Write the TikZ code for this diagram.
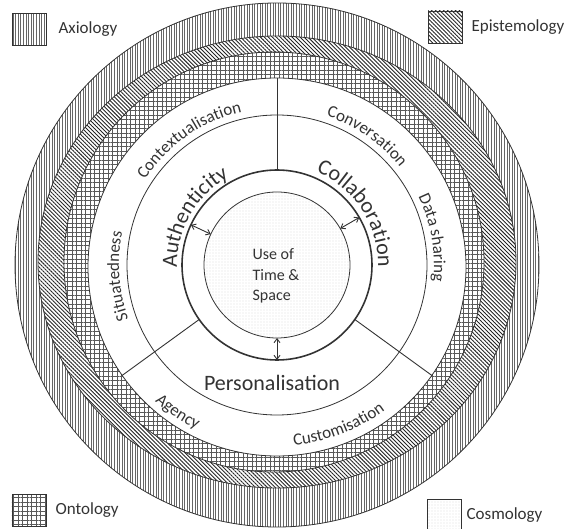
\documentclass[tikz,border=0pt]{standalone}
\usepackage{fontspec}
\setmainfont{Carlito}
\usepackage{tikz}
\usetikzlibrary{positioning, arrows.meta, patterns.meta, decorations.text}

\colorlet{ink}{black!80}
\newcommand\ringfont{\fontsize{17}{20}\selectfont}
\newcommand\bigfont{\fontsize{22}{26}\selectfont}

\tikzset{
  % fills of the four philosophical layers
  axiology/.style={pattern={Lines[angle=90,distance=2.6pt,line width=0.7pt]}, pattern color=black!60},
  epistemology/.style={pattern={Lines[angle=-45,distance=2.8pt,line width=0.9pt]}, pattern color=black!85},
  ontology/.style={pattern={Hatch[angle=0,distance=4.5pt,line width=0.6pt]}, pattern color=black!65},
  cosmology/.style={pattern={Dots[distance=3pt,radius=0.35pt]}, pattern color=black!35},
  band/.style={draw=ink, line width=0.8pt, preaction={fill=white}},
  ring/.style={circle, draw=ink, line width=0.8pt, inner sep=0pt, outer sep=0pt},
  divider/.style={draw=ink, line width=0.9pt},
  link/.style={{Straight Barb[length=4pt,width=6pt]}-{Straight Barb[length=4pt,width=6pt]}, draw=ink, line width=0.9pt},
  legbox/.style={draw=ink, line width=0.8pt, minimum width=34pt, minimum height=32pt, inner sep=0pt, preaction={fill=white}},
  leglabel/.style={text=ink, font=\ringfont, inner sep=0pt},
  arctext/.style={decorate, decoration={text along path, text align=center, text={#1}}},
}

\begin{document}
\begin{tikzpicture}[x=1pt, y=1pt]
  \useasboundingbox (-277,265) rectangle (287,-264);

  % outer layers, outside in
  \path[band, axiology]     (0,0) circle[radius=262];
  \path[band, epistemology] (0,3) ellipse[x radius=239, y radius=226];
  \path[band, ontology]     (-3,3) circle[radius=210];

  % white rings and the core
  \node[ring, fill=white, minimum size=378] (rim) at (0,-2) {};
  \node[ring, minimum size=300] (mid) at (0,0) {};
  \node[ring, line width=1.6pt, minimum size=190] (hub) at (0,0) {};
  \node[ring, cosmology, minimum size=146] (core) at (0,0) {};
  \node[text=ink, align=left, font=\fontsize{16}{20.5}\selectfont] (coretext) at (-1,-11) {Use of\\Time \&\\Space};

  % sector dividers
  \foreach \a in {90,215,325}
    \draw[divider] (hub.\a) -- (rim.\a);

  % links between core and hub
  \foreach \a in {155,30,270}
    \draw[link] (core.\a) -- (hub.\a);

  % main themes
  \path[arctext={|\bigfont\color{ink}|Authenticity}] (190:100) arc[start angle=190, end angle=110, radius=100];
  \path[arctext={|\bigfont\color{ink}|Collaboration}] (73:101) arc[start angle=73, end angle=-7, radius=101];
  \node[text=ink, font=\bigfont, anchor=base] (personal) at (-5,-125) {Personalisation};

  % sub themes
  \path[arctext={|\ringfont\color{ink}|Contextualisation}] (165:157) arc[start angle=165, end angle=85, radius=157];
  \path[arctext={|\ringfont\color{ink}|Situatedness}] (224:158) arc[start angle=224, end angle=144, radius=158];
  \path[arctext={|\ringfont\color{ink}|Conversation}] (95:157) arc[start angle=95, end angle=15, radius=157];
  \path[arctext={|\ringfont\color{ink}|Data sharing}] (50:157) arc[start angle=50, end angle=-30, radius=157];
  \path[arctext={|\ringfont\color{ink}|Agency}] (196:183) arc[start angle=196, end angle=276, radius=183];
  \path[arctext={|\ringfont\color{ink}|Customisation}] (251:181) arc[start angle=251, end angle=331, radius=181];

  % legend
  \node[legbox, axiology] (axbox) at (-248,236) {};
  \node[leglabel, right=12pt of axbox] (axlabel) {Axiology};
  \node[legbox, epistemology] (epbox) at (168,238) {};
  \node[leglabel, right=9pt of epbox] (eplabel) {Epistemology};
  \node[legbox, ontology] (onbox) at (-248,-245) {};
  \node[leglabel, right=9pt of onbox] (onlabel) {Ontology};
  \node[legbox, cosmology] (cobox) at (167,-250) {};
  \node[leglabel, right=5pt of cobox] (colabel) {Cosmology};
\end{tikzpicture}
\end{document}
